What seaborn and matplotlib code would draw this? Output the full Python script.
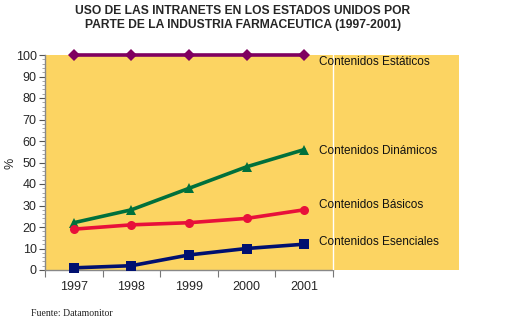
import matplotlib
matplotlib.use("Agg")
import matplotlib.pyplot as plt
import seaborn as sns
import pandas as pd
from matplotlib.ticker import MultipleLocator, FixedLocator

years = ["1997", "1998", "1999", "2000", "2001"]
estaticos = [100, 100, 100, 100, 100]
dinamicos = [22, 28, 38, 48, 56]
basicos = [19, 21, 22, 24, 28]
esenciales = [1, 2, 7, 10, 12]

series_names = ["Contenidos Estáticos", "Contenidos Dinámicos",
                "Contenidos Básicos", "Contenidos Esenciales"]
series_values = [estaticos, dinamicos, basicos, esenciales]
colors = ["#800060", "#00703C", "#E8103A", "#001070"]
markers = ["D", "^", "o", "s"]

rows = []
for name, vals in zip(series_names, series_values):
    for i, v in enumerate(vals):
        rows.append({"pos": i, "value": v, "serie": name})
df = pd.DataFrame(rows)

sns.set_style("white")
plt.rcParams["font.family"] = ["Liberation Sans", "DejaVu Sans"]

fig = plt.figure(figsize=(5.13, 3.25), dpi=100)
ax = fig.add_axes([45/513, 1-270/325, (459-45)/513, (270-55)/325])
ax.set_facecolor("#FCD462")

sns.lineplot(data=df, x="pos", y="value", hue="serie", style="serie",
             hue_order=series_names, style_order=series_names,
             palette=colors, markers=markers, dashes=False,
             linewidth=2.6, markersize=6.5, markeredgewidth=0,
             legend=False, ax=ax, clip_on=False, zorder=5)

cat_w = 57.6
ax.set_xlim(-0.5, -0.5 + (459-45)/cat_w)
ax.set_ylim(0, 100)
ax.axvline(4.5, color="white", lw=1, zorder=3)

for sp in ["top", "right"]:
    ax.spines[sp].set_visible(False)
for sp in ["left", "bottom"]:
    ax.spines[sp].set_color("#888888")
    ax.spines[sp].set_linewidth(1)
ax.spines["bottom"].set_bounds(-0.5, 4.5)

ax.yaxis.set_major_locator(MultipleLocator(10))
ax.yaxis.set_minor_locator(MultipleLocator(2))
ax.tick_params(axis="y", which="major", length=4, width=0.8, color="#555555",
               labelsize=9, pad=2, left=True)
ax.tick_params(axis="y", which="minor", length=2, width=0.6, color="#999999", left=True)

ax.xaxis.set_major_locator(FixedLocator(range(len(years))))
ax.set_xticklabels(years)
ax.xaxis.set_minor_locator(FixedLocator([i - 0.5 for i in range(len(years) + 1)]))
ax.tick_params(axis="x", which="major", length=0, labelsize=9, pad=8, bottom=True)
ax.tick_params(axis="x", which="minor", length=5, width=0.8, color="#777777", bottom=True)

ax.set_xlabel("")
ax.set_ylabel("")
fig.text(10/513, 1-163/325, "%", rotation=90, ha="center", va="center", fontsize=9)

label_y = [96.7, 55.3, 30.2, 13.0]
for name, ly in zip(series_names, label_y):
    ax.text(4.26, ly, name, fontsize=8.5, va="center", ha="left", color="#111111")

fig.text(243/513, 1-18/325, "USO DE LAS INTRANETS EN LOS ESTADOS UNIDOS POR\nPARTE DE LA INDUSTRIA FARMACEUTICA (1997-2001)",
         ha="center", va="center", fontsize=8.7, fontweight="bold", linespacing=1.3)
fig.text(31/513, 1-313/325, "Fuente: Datamonitor", ha="left", va="center",
         fontsize=7, family=["Liberation Serif", "DejaVu Serif"], color="#222222")

fig.savefig("out.png", dpi=100)
